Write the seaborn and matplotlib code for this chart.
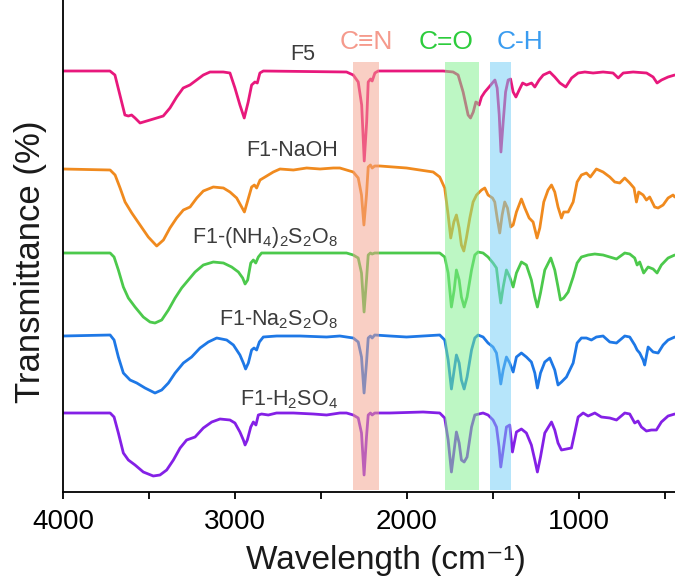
import matplotlib
matplotlib.use("Agg")
import matplotlib.pyplot as plt
from matplotlib.ticker import MultipleLocator
import pandas as pd
import seaborn as sns

# FTIR spectra, stacked transmittance (a.u.)
samples = ["F5", "F1-NaOH", "F1-(NH4)2S2O8", "F1-Na2S2O8", "F1-H2SO4"]
labels = ["F5", "F1-NaOH", "F1-(NH$_4$)$_2$S$_2$O$_8$", "F1-Na$_2$S$_2$O$_8$", "F1-H$_2$SO$_4$"]
colors = ["#e8187c", "#f08a1e", "#4cc94c", "#1e78e6", "#8420e6"]

wn_f5 = [4000, 3727, 3698, 3669, 3640, 3620, 3601, 3581, 3552, 3513, 3455, 3417, 3378, 3339, 3301,
         3262, 3223, 3184, 3145, 3068, 3029, 3000, 2971, 2946, 2923, 2903, 2884, 2870, 2855, 2835,
         2351, 2312, 2283, 2263, 2248, 2234, 2225, 2211, 2202, 2186, 2167, 1789, 1731, 1702, 1673,
         1644, 1630, 1614, 1599, 1589, 1580, 1566, 1547, 1527, 1498, 1488, 1475, 1463, 1453, 1440,
         1426, 1411, 1397, 1382, 1366, 1347, 1327, 1304, 1275, 1256, 1231, 1207, 1169, 1140, 1110,
         1076, 1042, 1004, 965, 917, 859, 801, 771, 742, 684, 606, 568, 545, 519, 481, 442]
t_f5 = [421, 421, 417, 397, 377, 376, 377, 374, 369, 371, 374, 376, 384, 395, 404,
        407, 412, 417, 420, 420, 419, 404, 387, 374, 390, 407, 410, 409, 419, 421,
        420, 417, 410, 387, 331, 370, 410, 413, 411, 419, 421, 421, 420, 417, 400,
        377, 374, 380, 390, 389, 387, 395, 400, 404, 410, 412, 404, 377, 340, 370,
        400, 412, 413, 400, 395, 402, 409, 407, 409, 405, 412, 417, 420, 415, 409,
        405, 414, 419, 420, 419, 420, 419, 414, 419, 420, 419, 415, 409, 412, 415, 417]

wn_naoh = [4000, 3726, 3697, 3668, 3639, 3600, 3552, 3504, 3455, 3416, 3378, 3339, 3300, 3261, 3222,
           3184, 3126, 3067, 3029, 2990, 2961, 2945, 2928, 2903, 2887, 2874, 2854, 2825, 2777, 2738,
           2660, 2583, 2505, 2428, 2390, 2351, 2312, 2283, 2264, 2250, 2235, 2225, 2212, 2202, 2187,
           2157, 2002, 1925, 1847, 1809, 1780, 1760, 1745, 1727, 1712, 1696, 1683, 1669, 1654, 1634,
           1615, 1595, 1566, 1547, 1528, 1502, 1489, 1475, 1460, 1446, 1431, 1415, 1396, 1382, 1363,
           1334, 1314, 1289, 1266, 1243, 1227, 1204, 1179, 1159, 1140, 1121, 1101, 1088, 1062, 1033,
           1010, 985, 956, 933, 898, 859, 820, 791, 762, 733, 704, 679, 665, 652, 626,
           607, 588, 559, 539, 510, 481, 452, 442]
t_naoh = [323, 322, 317, 304, 290, 279, 267, 255, 246, 252, 264, 274, 282, 285, 294,
          301, 305, 304, 300, 294, 285, 280, 290, 305, 307, 304, 312, 315, 320, 323,
          322, 324, 323, 324, 324, 322, 320, 314, 297, 267, 297, 325, 327, 324, 326,
          326, 324, 322, 320, 315, 304, 277, 254, 270, 277, 264, 247, 241, 254, 274,
          290, 297, 302, 304, 297, 294, 290, 274, 259, 277, 290, 284, 265, 267, 280,
          293, 284, 274, 270, 254, 264, 290, 302, 307, 300, 285, 274, 280, 280, 290,
          310, 317, 319, 315, 323, 320, 315, 310, 309, 314, 309, 304, 290, 300, 297,
          292, 295, 285, 284, 287, 294, 297, 295]

wn_nh4 = [4000, 3726, 3703, 3678, 3649, 3620, 3581, 3533, 3494, 3465, 3426, 3387, 3348, 3310, 3271,
          3232, 3184, 3126, 3067, 3019, 2980, 2955, 2941, 2926, 2908, 2893, 2879, 2864, 2845, 2777,
          2660, 2544, 2428, 2390, 2351, 2312, 2283, 2264, 2249, 2235, 2225, 2212, 2202, 2187, 2099,
          1809, 1780, 1760, 1741, 1725, 1712, 1696, 1683, 1667, 1650, 1624, 1605, 1586, 1557, 1528,
          1499, 1479, 1464, 1454, 1440, 1421, 1402, 1382, 1363, 1334, 1305, 1276, 1256, 1241, 1223,
          1198, 1163, 1140, 1121, 1107, 1088, 1062, 1033, 1010, 985, 946, 907, 859, 820, 781,
          733, 704, 675, 661, 646, 623, 597, 568, 545, 520, 481, 442]
t_nh4 = [239, 239, 235, 222, 205, 194, 185, 175, 170, 169, 172, 182, 194, 204, 212,
         220, 227, 230, 229, 225, 220, 214, 208, 212, 229, 232, 229, 235, 239, 239,
         239, 239, 239, 239, 239, 237, 234, 219, 180, 212, 237, 239, 238, 239, 239,
         239, 235, 219, 185, 202, 222, 212, 195, 185, 195, 222, 237, 240, 239, 235,
         229, 224, 202, 189, 205, 222, 215, 205, 219, 230, 227, 212, 195, 185, 199,
         222, 234, 222, 205, 192, 194, 200, 215, 229, 235, 237, 238, 237, 235, 233,
         239, 238, 234, 227, 230, 219, 225, 223, 219, 227, 234, 237]

wn_na = [4000, 3726, 3703, 3678, 3649, 3610, 3571, 3523, 3465, 3426, 3387, 3348, 3300, 3252, 3203,
         3155, 3106, 3048, 3009, 2971, 2951, 2938, 2922, 2903, 2889, 2874, 2858, 2835, 2757, 2622,
         2467, 2390, 2351, 2312, 2283, 2264, 2249, 2235, 2225, 2212, 2202, 2187, 2099, 2002, 1809,
         1780, 1760, 1741, 1725, 1712, 1696, 1683, 1667, 1650, 1624, 1605, 1586, 1557, 1528, 1499,
         1479, 1464, 1454, 1440, 1421, 1402, 1382, 1363, 1334, 1305, 1276, 1256, 1241, 1223, 1198,
         1169, 1140, 1121, 1101, 1072, 1033, 1010, 985, 956, 927, 898, 859, 820, 781, 733,
         704, 675, 661, 646, 626, 617, 597, 568, 539, 510, 481, 442]
t_na = [156, 157, 152, 135, 119, 112, 109, 104, 99, 102, 109, 119, 129, 135, 144,
        150, 154, 152, 147, 137, 129, 123, 129, 142, 144, 142, 150, 155, 156, 156,
        155, 156, 155, 154, 150, 135, 99, 129, 154, 156, 154, 157, 156, 155, 157,
        152, 132, 103, 122, 137, 129, 112, 103, 115, 142, 154, 157, 155, 149, 145,
        139, 122, 108, 122, 135, 129, 120, 135, 139, 135, 130, 119, 104, 119, 130,
        134, 122, 107, 110, 115, 129, 149, 154, 154, 152, 155, 156, 150, 149, 156,
        155, 147, 142, 139, 132, 127, 145, 140, 139, 147, 152, 155]

wn_h2so4 = [4000, 3726, 3703, 3678, 3649, 3620, 3581, 3533, 3475, 3436, 3397, 3358, 3319, 3281, 3232,
            3184, 3135, 3087, 3029, 3000, 2971, 2951, 2941, 2928, 2908, 2893, 2878, 2864, 2845, 2806,
            2758, 2660, 2544, 2467, 2390, 2351, 2312, 2283, 2264, 2249, 2235, 2225, 2212, 2202, 2187,
            2099, 1906, 1809, 1780, 1760, 1741, 1725, 1712, 1696, 1683, 1667, 1650, 1624, 1605, 1557,
            1528, 1499, 1479, 1464, 1454, 1440, 1421, 1402, 1386, 1363, 1334, 1305, 1276, 1256, 1241,
            1223, 1198, 1159, 1140, 1121, 1101, 1072, 1043, 1024, 1004, 975, 946, 907, 869, 820,
            781, 733, 704, 675, 656, 636, 607, 578, 549, 520, 481, 442]
t_h2so4 = [79, 79, 75, 59, 39, 32, 27, 20, 16, 17, 22, 32, 44, 52, 55,
           64, 70, 73, 72, 69, 60, 52, 47, 52, 65, 70, 67, 77, 78, 77,
           79, 79, 78, 77, 79, 79, 77, 74, 59, 17, 55, 77, 79, 77, 79,
           79, 80, 79, 74, 52, 20, 42, 60, 49, 32, 30, 35, 65, 77, 79,
           77, 72, 65, 45, 25, 42, 65, 67, 40, 60, 63, 59, 47, 32, 20,
           35, 59, 70, 62, 49, 42, 43, 44, 59, 75, 79, 76, 79, 75, 74,
           72, 79, 78, 69, 71, 65, 61, 62, 62, 70, 76, 78]

# label anchor (right edge) wavenumber and height for each curve
label_wn = [2535, 2400, 2400, 2400, 2400]
label_t = [437, 342, 255, 172, 92]

# highlighted bands
bands = ["C\u2261N", "C=O", "C-H"]
band_lo = [2160, 1580, 1393]
band_hi = [2315, 1780, 1517]
band_text_wn = [2238, 1770, 1343]
band_fill = ["#f4a08a", "#7df08a", "#6fcdf7"]
band_text_color = ["#f59a8c", "#2ccc3c", "#3a9cf0"]

wns = [wn_f5, wn_naoh, wn_nh4, wn_na, wn_h2so4]
ts = [t_f5, t_naoh, t_nh4, t_na, t_h2so4]
df = pd.concat([pd.DataFrame({"wn": w, "T": t, "sample": s}) for s, w, t in zip(samples, wns, ts)])

sns.set_style("ticks")
plt.rcParams["font.family"] = ["Liberation Sans", "DejaVu Sans"]
plt.rcParams["mathtext.default"] = "regular"

fig = plt.figure(figsize=(6.75, 5.85), dpi=100)
ax = fig.add_axes([63 / 675, 1 - 492 / 585, (682 - 63) / 675, 492 / 585])

sns.lineplot(data=df, x="wn", y="T", hue="sample", hue_order=samples, palette=colors,
             estimator=None, sort=False, lw=2.0, legend=False, ax=ax)

for lo, hi, c, name, x, tc in zip(band_lo, band_hi, band_fill, bands, band_text_wn, band_text_color):
    ax.axvspan(hi, lo, ymin=2 / 492, ymax=430 / 492, color=c, alpha=0.5, lw=0, zorder=3)
    ax.text(x, 450, name, color=tc, fontsize=19, ha="center", va="center")

for lab, x, y in zip(labels, label_wn, label_t):
    ax.text(x, y, lab, color="#3c3c3c", fontsize=15.5, ha="right", va="center")

ax.set_xlim(4000, 400)
ax.set_ylim(0, 492)
ax.set_yticks([])
ax.set_xlabel("")
ax.set_ylabel("")
ax.xaxis.set_major_locator(MultipleLocator(1000))
ax.xaxis.set_minor_locator(MultipleLocator(500))
ax.tick_params(axis="x", which="both", direction="out", length=5, width=1.3, labelsize=20,
               pad=7, color="black", labelcolor="black")
for side in ["top", "right"]:
    ax.spines[side].set_visible(False)
for side in ["left", "bottom"]:
    ax.spines[side].set_linewidth(1.3)
    ax.spines[side].set_color("black")

fig.text(386 / 675, 1 - 561 / 585, "Wavelength (cm\u207b\u00b9)", fontsize=24,
         color="#1a1a1a", ha="center", va="center")
fig.text(31 / 675, 1 - 262 / 585, "Transmittance (%)", fontsize=25, rotation=90,
         color="#1a1a1a", ha="center", va="center")

fig.savefig("out.png", dpi=100)
